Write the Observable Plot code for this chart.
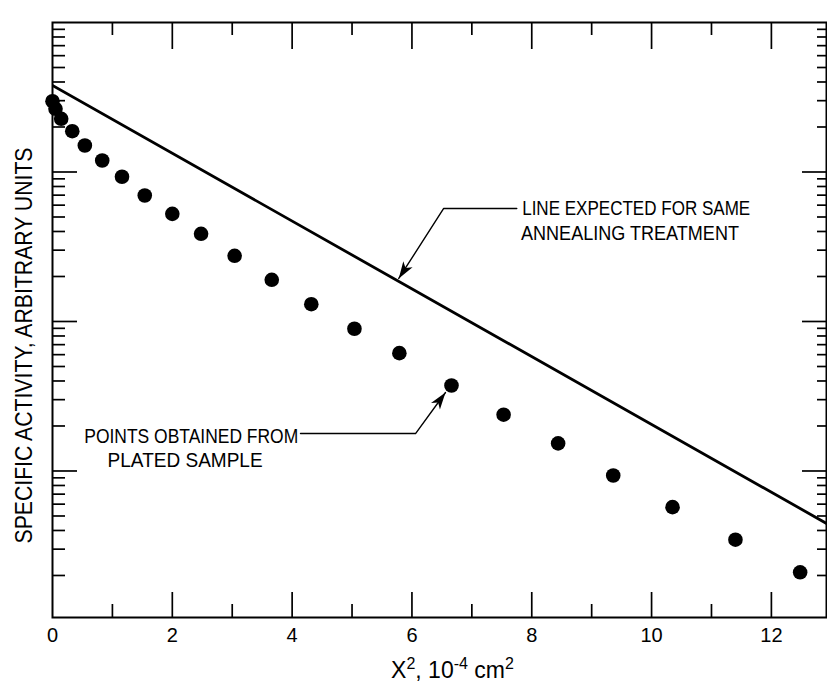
<!DOCTYPE html>
<html>
<head>
<meta charset="utf-8">
<script src="https://cdn.jsdelivr.net/npm/d3@7"></script>
<script src="https://cdn.jsdelivr.net/npm/@observablehq/plot@0.6"></script>
<style>
  html, body { margin: 0; padding: 0; background: #fff; }
</style>
</head>
<body>
<div id="chart"></div>
<script>
// ---- data ----
const x2 = [0, 0.05, 0.145, 0.33, 0.54, 0.83, 1.16, 1.54, 2.00, 2.48, 3.04, 3.66, 4.32, 5.04, 5.79, 6.66, 7.53, 8.44, 9.36, 10.35, 11.40, 12.48];
const activity = [2976, 2647, 2269, 1875, 1504, 1194, 929, 696, 525, 386, 275, 190, 130.5, 89.4, 61.4, 37.3, 23.8, 15.3, 9.33, 5.73, 3.47, 2.10];

const expectedX = [0, 12.92];
const expectedY = [3790, 4.46];

const noteText = ["LINE EXPECTED FOR SAME", "ANNEALING TREATMENT", "POINTS OBTAINED FROM", "PLATED SAMPLE"];
const noteX = [7.84, 7.82, 0.53, 0.92];
const noteY = [570, 391, 17.1, 11.85];

const leader1X = [7.75, 6.53, 5.78];
const leader1Y = [570, 570, 194];
const leader2X = [4.14, 6.06, 6.56];
const leader2Y = [17.8, 17.8, 33.5];

const xTickLabels = [0, 2, 4, 6, 8, 10, 12];
const xMajor = [2, 4, 6, 8, 10, 12];
const xMinor = [1, 3, 5, 7, 9, 11];
const yDecades = [10, 100, 1000];
const yMinor = [1, 10, 100, 1000].flatMap(d => [2, 3, 4, 5, 6, 7, 8, 9].map(k => k * d));

const xLabelParts = [["X", false], ["2", true], [", 10", false], ["-4", true], [" cm", false], ["2", true]];
const yLabel = "SPECIFIC ACTIVITY, ARBITRARY UNITS";

// ---- tables built from the arrays ----
const points = x2.map((x, i) => ({x, y: activity[i]}));
const expected = expectedX.map((x, i) => ({x, y: expectedY[i]}));
const notes = noteText.map((t, i) => ({t, x: noteX[i], y: noteY[i]}));
const leader1 = leader1X.map((x, i) => ({x, y: leader1Y[i]}));
const leader2 = leader2X.map((x, i) => ({x, y: leader2Y[i]}));
const xLabel = xLabelParts.map(d => d[0]).join("");

// filled arrowhead marker
const arrowHead = () => {
  const m = d3.create("svg:marker")
    .attr("viewBox", "-18 -6 19 12")
    .attr("markerWidth", 19)
    .attr("markerHeight", 12)
    .attr("markerUnits", "userSpaceOnUse")
    .attr("orient", "auto")
    .attr("overflow", "visible");
  m.append("path").attr("d", "M0,0L-17,-5.5L-12.5,0L-17,5.5Z").attr("fill", "black").attr("stroke", "none");
  return m.node();
};

const tickStyle = {stroke: "black", fill: "none", strokeWidth: 1.7, label: null};

const chart = Plot.plot({
  width: 827,
  height: 685,
  marginLeft: 52,
  marginRight: 1,
  marginTop: 22,
  marginBottom: 68,
  style: {fontFamily: "Liberation Sans, Arial, Helvetica, sans-serif", background: "white", color: "black"},
  x: {domain: [0, 12.92]},
  y: {type: "log", domain: [1.047, 10000]},
  marks: [
    Plot.frame({stroke: "black", strokeWidth: 2}),
    // bottom & top x ticks (inward)
    Plot.axisX(xMajor, {anchor: "bottom", tickSize: -25, ...tickStyle}),
    Plot.axisX(xMinor, {anchor: "bottom", tickSize: -13, ...tickStyle}),
    Plot.axisX(xMajor, {anchor: "top", tickSize: -26, ...tickStyle}),
    Plot.axisX(xMinor, {anchor: "top", tickSize: -12, ...tickStyle}),
    // left & right y ticks (inward)
    Plot.axisY(yDecades, {anchor: "left", tickSize: -25, ...tickStyle}),
    Plot.axisY(yMinor, {anchor: "left", tickSize: -13, ...tickStyle}),
    Plot.axisY(yDecades, {anchor: "right", tickSize: -25, ...tickStyle}),
    Plot.axisY(yMinor, {anchor: "right", tickSize: -10, ...tickStyle}),
    // tick labels
    Plot.axisX(xTickLabels, {anchor: "bottom", tickSize: 0, tickPadding: 10, fontSize: 20, fill: "black", label: null}),
    // axis titles
    Plot.text([xLabel], {text: d => d, frameAnchor: "bottom", dx: 13, dy: 53, fontSize: 23, textAnchor: "middle", lineAnchor: "middle", fill: "black"}),
    Plot.text([yLabel], {text: d => d, frameAnchor: "left", dx: -28.5, dy: 25.5, rotate: -90, fontSize: 24, textAnchor: "middle", lineAnchor: "middle", fill: "black"}),
    // expected line
    Plot.line(expected, {x: "x", y: "y", stroke: "black", strokeWidth: 2.8, clip: true}),
    // data points
    Plot.dot(points, {x: "x", y: "y", r: 7.3, fill: "black", stroke: "none"}),
    // annotations
    Plot.line(leader1, {x: "x", y: "y", stroke: "black", strokeWidth: 1.4, markerEnd: arrowHead}),
    Plot.line(leader2, {x: "x", y: "y", stroke: "black", strokeWidth: 1.4, markerEnd: arrowHead}),
    Plot.text(notes, {x: "x", y: "y", text: "t", textAnchor: "start", lineAnchor: "middle", fontSize: 21, fill: "black"})
  ]
});

// condensed lettering like the original drawing
const textWidths = {
  "LINE EXPECTED FOR SAME": 228,
  "ANNEALING TREATMENT": 218,
  "POINTS OBTAINED FROM": 214,
  "PLATED SAMPLE": 155,
  "SPECIFIC ACTIVITY, ARBITRARY UNITS": 396
};
d3.select(chart).selectAll("text").each(function () {
  const content = this.textContent;
  const w = textWidths[content];
  if (w) {
    this.setAttribute("textLength", w);
    this.setAttribute("lengthAdjust", "spacingAndGlyphs");
  }
  if (content === xLabel) {
    const t = d3.select(this);
    t.text(null);
    let raised = false;
    for (const [s, sup] of xLabelParts) {
      const span = t.append("tspan").text(s);
      if (sup && !raised) { span.attr("dy", -9).attr("font-size", 16); raised = true; }
      else if (sup) { span.attr("font-size", 16); }
      else if (raised) { span.attr("dy", 9); raised = false; }
    }
  }
});

document.getElementById("chart").appendChild(chart);
</script>
</body>
</html>
